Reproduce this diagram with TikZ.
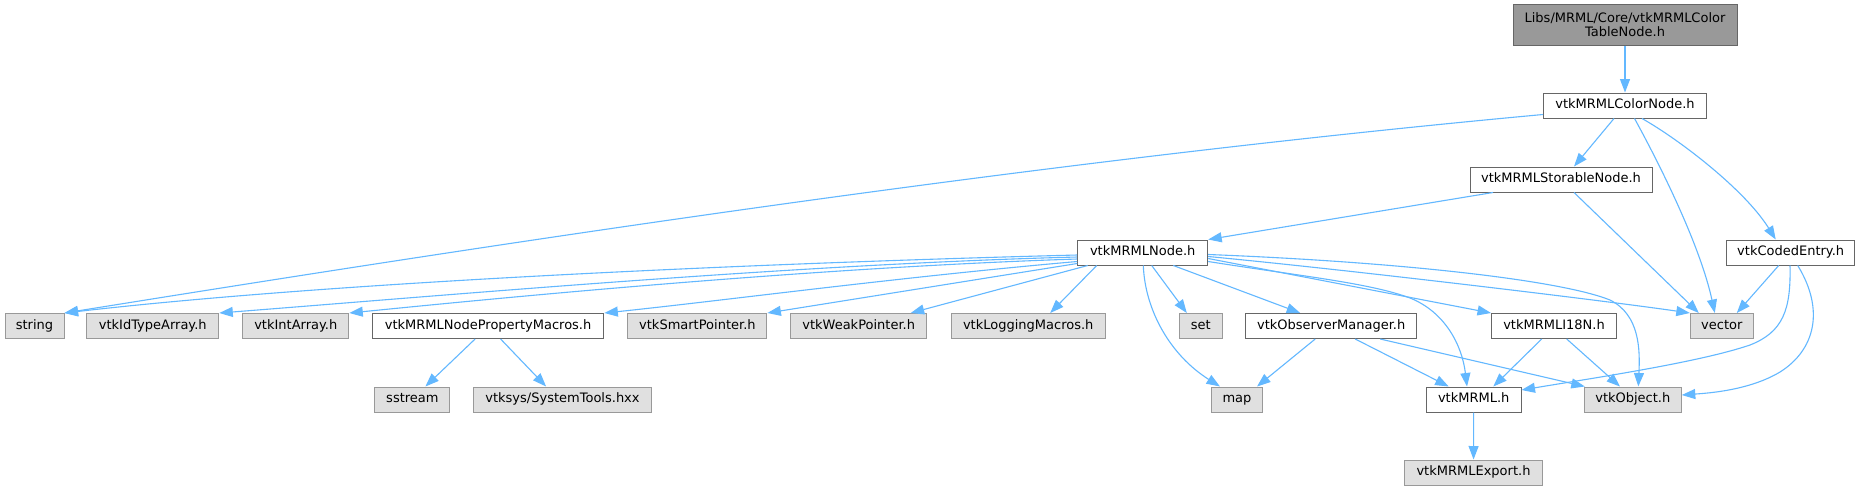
\documentclass[tikz,border=0pt]{standalone}
\usepackage{fontspec}
\setmainfont{DejaVu Sans}
\usetikzlibrary{arrows.meta}
\definecolor{edgeblue}{HTML}{63B8FF}
\definecolor{wborder}{HTML}{666666}
\definecolor{gfill}{HTML}{E0E0E0}
\definecolor{gborder}{HTML}{999999}
\definecolor{rootfill}{HTML}{999999}
\begin{document}
\begin{tikzpicture}[x=1pt,y=-1pt,
  box/.style={draw=wborder, fill=white, line width=1pt, minimum height=25pt, inner xsep=2pt, inner ysep=0pt,
    text height=9.6pt, text depth=2.8pt, font=\fontsize{13}{14.5}\selectfont},
  ext/.style={box, draw=gborder, fill=gfill},
  rootbox/.style={draw=wborder, fill=rootfill, line width=1pt, minimum height=41pt, inner xsep=2pt, inner ysep=0pt,
    align=center, font=\fontsize{13}{14.5}\selectfont},
  e/.style={draw=edgeblue, line width=1.1pt, -{Triangle[length=13.5pt,width=10pt]}}]
\useasboundingbox (0,0) rectangle (1863,491);
\fill[white] (0,0) rectangle (1863,491);

\node[rootbox, minimum width=224pt] (root) at (1625,24.5) {Libs/MRML/Core/vtkMRMLColor\\TableNode.h};
\node[box, minimum width=163pt] (color) at (1625,105.5) {vtkMRMLColorNode.h};
\node[box, minimum width=182pt] (storable) at (1561,179.5) {vtkMRMLStorableNode.h};
\node[box, minimum width=128pt] (coded) at (1790.7,252.5) {vtkCodedEntry.h};
\node[box, minimum width=130pt] (mrmlnode) at (1142.7,252.5) {vtkMRMLNode.h};
\node[ext, minimum width=59pt] (string) at (34.5,326) {string};
\node[ext, minimum width=132pt] (idtype) at (152.8,326) {vtkIdTypeArray.h};
\node[ext, minimum width=106pt] (intarr) at (295.8,326) {vtkIntArray.h};
\node[box, minimum width=231.5pt] (propmac) at (488.1,326) {vtkMRMLNodePropertyMacros.h};
\node[ext, minimum width=139pt] (smart) at (697.4,326) {vtkSmartPointer.h};
\node[ext, minimum width=136pt] (weak) at (858.7,326) {vtkWeakPointer.h};
\node[ext, minimum width=154pt] (logging) at (1028.2,326) {vtkLoggingMacros.h};
\node[ext, minimum width=43pt] (set) at (1200.8,326) {set};
\node[box, minimum width=170.6pt] (observer) at (1331.2,326) {vtkObserverManager.h};
\node[box, minimum width=125pt] (i18n) at (1554,326) {vtkMRMLI18N.h};
\node[ext, minimum width=63pt] (vector) at (1721.8,326) {vector};
\node[ext, minimum width=75pt] (sstream) at (412.4,399.5) {sstream};
\node[ext, minimum width=178pt] (systools) at (562.5,399.5) {vtksys/SystemTools.hxx};
\node[ext, minimum width=50.6pt] (map) at (1237,399.5) {map};
\node[box, minimum width=94.6pt] (mrml) at (1473.7,399.5) {vtkMRML.h};
\node[ext, minimum width=97pt] (object) at (1632.8,399.5) {vtkObject.h};
\node[ext, minimum width=137.4pt] (export) at (1473.5,472.5) {vtkMRMLExport.h};

% root and color node
\draw[e] (root) -- (color);
\draw[e] ([yshift=-9pt]color.west) .. controls (1050,160) and (550,235) .. (string.north east);
\draw[e] ([xshift=-11pt]color.south) -- ([xshift=13pt]storable.north);
\draw[e] ([xshift=9.5pt]color.south) .. controls (1660,165) and (1700,245) .. ([xshift=-7pt]vector.north);
\draw[e] ([xshift=17pt]color.south) .. controls (1680,140) and (1745,190) .. ([xshift=-15pt]coded.north);
% storable
\draw[e] ([xshift=-68pt]storable.south) -- (mrmlnode.north east);
\draw[e] ([xshift=13pt]storable.south) -- ([xshift=-23pt]vector.north);
% coded entry
\draw[e] ([xshift=-12pt]coded.south) -- ([xshift=15pt]vector.north);
\draw[e] ([xshift=-0.7pt]coded.south) .. controls (1791,310) and (1783,332) .. (1750,345)
  .. controls (1700,362) and (1600,377) .. ([yshift=9.5pt]mrml.east);
\draw[e] ([xshift=7pt]coded.south) .. controls (1825,310) and (1815,350) .. (1780,372)
  .. controls (1750,390) and (1710,393) .. ([yshift=4.5pt]object.east);
% vtkMRMLNode
\draw[e] ([yshift=-2.5pt]mrmlnode.west) .. controls (800,262) and (350,280) .. (string.north east);
\draw[e] ([yshift=-4.5pt]mrmlnode.west) .. controls (800,264) and (450,295) .. (idtype.north east);
\draw[e] ([yshift=-6.5pt]mrmlnode.west) .. controls (800,268) and (480,300) .. (intarr.north east);
\draw[e] ([yshift=-9pt]mrmlnode.west) .. controls (900,277) and (720,301) .. (propmac.north east);
\draw[e] ([yshift=-11pt]mrmlnode.west) -- (smart.north east);
\draw[e] ([xshift=-55pt]mrmlnode.south) -- ([xshift=52pt]weak.north);
\draw[e] ([xshift=-46pt]mrmlnode.south) -- ([xshift=22pt]logging.north);
\draw[e] ([xshift=9pt]mrmlnode.south) -- ([xshift=-14pt]set.north);
\draw[e] ([xshift=0.6pt]mrmlnode.south) .. controls (1145,310) and (1170,355) .. ([xshift=-17pt]map.north);
\draw[e] ([xshift=30.6pt]mrmlnode.south) -- ([xshift=-31pt]observer.north);
\draw[e] ([yshift=-9pt]mrmlnode.east) .. controls (1300,276) and (1370,283) .. (1410,298)
  .. controls (1445,312) and (1462,345) .. ([xshift=-6.7pt]mrml.north);
\draw[e] ([yshift=-6pt]mrmlnode.east) -- (i18n.north west);
\draw[e] ([yshift=-4pt]mrmlnode.east) .. controls (1350,270) and (1600,300) .. (vector.north west);
\draw[e] ([yshift=-2pt]mrmlnode.east) .. controls (1400,262) and (1560,280) .. (1610,300)
  .. controls (1640,315) and (1640,350) .. ([xshift=5.5pt]object.north);
% lower rows
\draw[e] ([xshift=-13pt]propmac.south) -- ([xshift=13pt]sstream.north);
\draw[e] ([xshift=12.5pt]propmac.south) -- ([xshift=-16.4pt]systools.north);
\draw[e] ([xshift=-16pt]observer.south) -- ([xshift=20pt]map.north);
\draw[e] ([xshift=24pt]observer.south) -- ([xshift=-25pt]mrml.north);
\draw[e] ([xshift=49pt]observer.south) -- ([xshift=-48pt]object.north);
\draw[e] ([xshift=-12.3pt]i18n.south) -- ([xshift=19.6pt]mrml.north);
\draw[e] ([xshift=12.7pt]i18n.south) -- ([xshift=-12.8pt]object.north);
\draw[e] (mrml) -- (export);
\end{tikzpicture}
\end{document}
